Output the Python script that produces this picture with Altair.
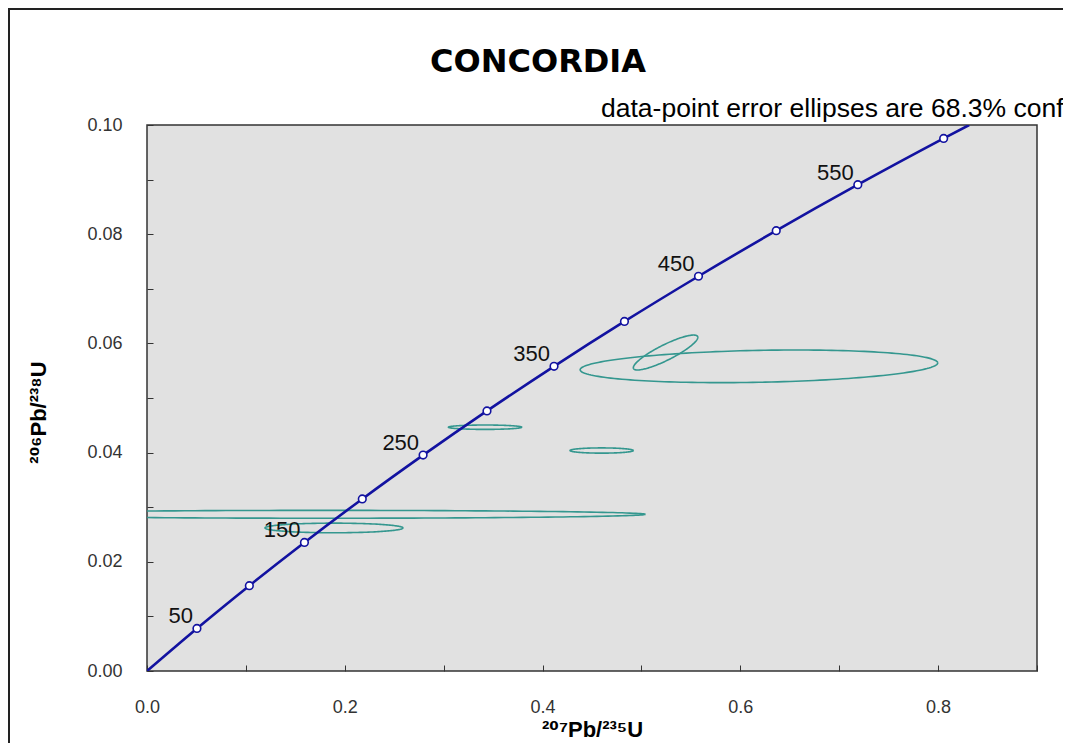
import numpy as np
import pandas as pd
import altair as alt

# ---------------- data ----------------
ages = [50, 100, 150, 200, 250, 300, 350, 400, 450, 500, 550, 600]
conc_x = [0.0505, 0.1035, 0.1592, 0.2177, 0.2792, 0.3438, 0.4116, 0.4828, 0.5577, 0.6363, 0.7188, 0.8056]
conc_y = [0.00779, 0.01563, 0.02354, 0.03151, 0.03954, 0.04764, 0.05580, 0.06402, 0.07230, 0.08065, 0.08906, 0.09754]
curve_start = (0.0, 0.0)
curve_end = (0.8314, 0.1000)
labelled_ages = [50, 150, 250, 350, 450, 550]

# error ellipses: centre, 1-sigma half widths and correlation
ell_cx = [0.180, 0.1891, 0.3419, 0.4598, 0.6188, 0.5244]
ell_cy = [0.0287, 0.0262, 0.04465, 0.04038, 0.0558, 0.05833]
ell_sx = [0.324, 0.0698, 0.0371, 0.0320, 0.1808, 0.0326]
ell_sy = [0.00072, 0.00088, 0.00040, 0.00048, 0.00299, 0.00320]
ell_rho = [0.0, 0.0, 0.0, 0.0, 0.21, 0.87]

x_ticks = [0.0, 0.1, 0.2, 0.3, 0.4, 0.5, 0.6, 0.7, 0.8, 0.9]
y_ticks = [0.0, 0.01, 0.02, 0.03, 0.04, 0.05, 0.06, 0.07, 0.08, 0.09, 0.10]

title_text = "CONCORDIA"
subtitle_text = "data-point error ellipses are 68.3% conf"
x_title = "²⁰⁷Pb/²³⁵U"
y_title = "²⁰⁶Pb/²³⁸U"

# ---------------- tables ----------------
curve_df = pd.DataFrame({
    "x": [curve_start[0]] + conc_x + [curve_end[0]],
    "y": [curve_start[1]] + conc_y + [curve_end[1]],
})
curve_df["i"] = range(len(curve_df))
pts_df = pd.DataFrame({"x": conc_x, "y": conc_y, "age": ages})
lab_df = pts_df[pts_df["age"].isin(labelled_ages)].copy()
lab_df["label"] = lab_df["age"].astype(str)

t = np.linspace(0, 2 * np.pi, 181)
rows = []
for k, (cx, cy, sx, sy, r) in enumerate(zip(ell_cx, ell_cy, ell_sx, ell_sy, ell_rho)):
    xs = cx + sx * np.cos(t)
    ys = cy + sy * (r * np.cos(t) + np.sqrt(1 - r * r) * np.sin(t))
    for j, (a, b) in enumerate(zip(xs, ys)):
        rows.append({"id": k, "i": j, "x": a, "y": b})
ell_df = pd.DataFrame(rows)

# ---------------- layout ----------------
W, H = 890, 546
PAD = {"left": 139, "top": 117, "right": 26, "bottom": 72}
LABEL_FONT = "Liberation Sans, Arial, sans-serif"
TITLE_FONT = "Liberation Sans, DejaVu Sans, sans-serif"

x_axis = alt.Axis(
    values=x_ticks, labelExpr="round(datum.value*10) % 2 == 0 ? format(datum.value, '.1f') : ''",
    grid=False, domain=False, ticks=True, tickSize=6, offset=-6, tickColor="#333",
    labelPadding=27, labelFont=LABEL_FONT, labelFontSize=18, labelColor="#333",
    title=x_title, titleFont=TITLE_FONT, titleFontSize=22, titleFontWeight="bold",
    titleColor="#000", titlePadding=3, labelFlush=False, labelOverlap=False,
)
y_axis = alt.Axis(
    values=y_ticks, labelExpr="round(datum.value*100) % 2 == 0 ? format(datum.value, '.2f') : ''",
    grid=False, domain=False, ticks=True, tickSize=6, offset=-6, tickColor="#333",
    labelPadding=25, labelFont=LABEL_FONT, labelFontSize=18, labelColor="#333",
    title=y_title, titleFont=TITLE_FONT, titleFontSize=22, titleFontWeight="bold",
    titleColor="#000", titlePadding=36, titleY=287, labelFlush=False, labelOverlap=False,
)
xs_ = alt.Scale(domain=[0, 0.9], nice=False, zero=False)
ys_ = alt.Scale(domain=[0, 0.1], nice=False, zero=False)
X = alt.X("x:Q", scale=xs_, axis=x_axis)
Y = alt.Y("y:Q", scale=ys_, axis=y_axis)

ellipses = alt.Chart(ell_df).mark_line(clip=True, color="#34978f", strokeWidth=1.6).encode(
    x=X, y=Y, detail="id:N", order="i:Q"
)
curve = alt.Chart(curve_df).mark_line(clip=True, color="#1212a0", strokeWidth=2.6,
                                      interpolate="monotone").encode(x=X, y=Y, order="i:Q")
points = alt.Chart(pts_df).mark_point(filled=True, fill="white", stroke="#1212a0",
                                      strokeWidth=1.6, size=58, opacity=1).encode(x=X, y=Y)
labels = alt.Chart(lab_df).mark_text(align="right", baseline="middle", dx=-4, dy=-12,
                                     font=LABEL_FONT, fontSize=22, color="#111").encode(
    x=X, y=Y, text="label:N"
)

ttl = alt.Chart(pd.DataFrame({"t": [title_text]})).mark_text(
    align="center", baseline="alphabetic", font="DejaVu Sans", fontSize=32,
    fontWeight="bold", color="#000"
).encode(x=alt.value(391), y=alt.value(-53), text="t:N")
sub = alt.Chart(pd.DataFrame({"t": [subtitle_text]})).mark_text(
    align="left", baseline="alphabetic", font=LABEL_FONT, fontSize=26.5, color="#000"
).encode(x=alt.value(454), y=alt.value(-8), text="t:N")

# outer chart frame: only its left and top sides are inside the picture (thin filled bars)
fx0 = -PAD["left"]
fy0 = -PAD["top"]
frame_df = pd.DataFrame({"a": [0]})
frame_left = alt.Chart(frame_df).mark_rect(fill="#222", strokeWidth=0).encode(
    x=alt.value(fx0), x2=alt.value(fx0 + 2), y=alt.value(fy0), y2=alt.value(H + PAD["bottom"])
)
frame_top = alt.Chart(frame_df).mark_rect(fill="#222", strokeWidth=0).encode(
    x=alt.value(fx0), x2=alt.value(W + PAD["right"]), y=alt.value(fy0), y2=alt.value(fy0 + 2)
)

chart = alt.layer(frame_left, frame_top, ellipses, curve, points, labels, ttl, sub).properties(
    width=W, height=H,
    autosize=alt.AutoSizeParams(type="none"),
    padding=PAD,
    background="white",
).configure_view(fill="#e1e1e1", stroke="#333", strokeWidth=1.5)

chart.save("out.html", embed_options={"renderer": "svg", "actions": False})
